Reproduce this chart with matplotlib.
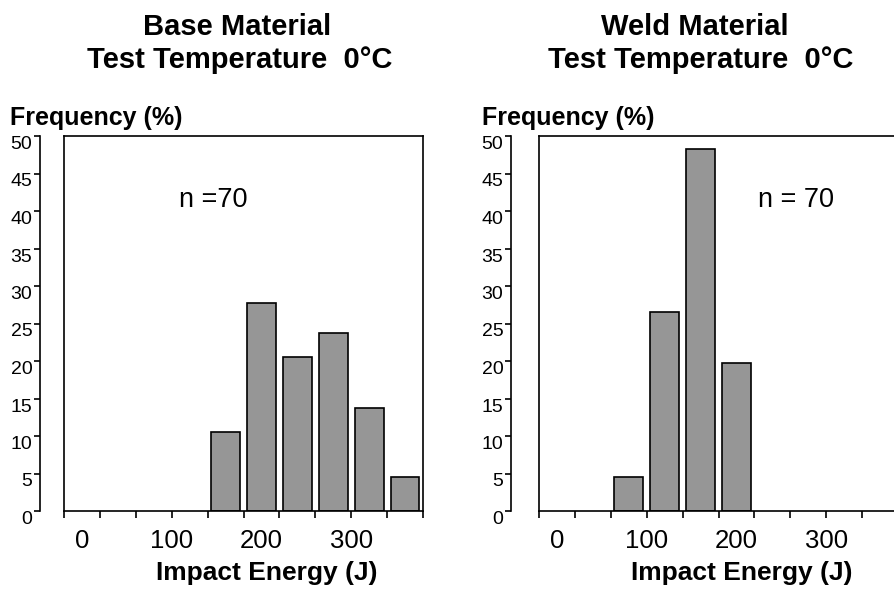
import numpy as np
import matplotlib
matplotlib.use('Agg')
import matplotlib.pyplot as plt

plt.rcParams['font.family'] = ['Liberation Sans', 'DejaVu Sans']

# data (bin centres in J, frequency in %)
base_centers = [160, 200, 240, 280, 320, 360]
base_freq = [10.5, 27.8, 20.6, 23.8, 13.7, 4.6]
weld_centers = [80, 120, 160, 200]
weld_freq = [4.6, 26.5, 48.3, 19.8]

titles = ['Base Material', 'Weld Material']
n_labels = ['n =70', 'n = 70']
x_labels = [0, 100, 200, 300]
y_ticks = list(range(0, 51, 5))

W, H = 894, 590
fig = plt.figure(figsize=(W / 100, H / 100), dpi=100)


def box(l, t, r, b):
    return [l / W, 1 - b / H, (r - l) / W, (b - t) / H]


def ftext(x, y, s, **kw):
    fig.text(x / W, 1 - y / H, s, **kw)


def panel(yax, bx, centers, freq, title, tx1, tx2, flx, nlab, nx):
    # detached y axis
    ay = fig.add_axes(box(yax, 136, yax + 1, 511))
    ay.set_ylim(0, 50)
    ay.set_yticks(y_ticks)
    ay.set_xticks([])
    for s in ['top', 'right', 'bottom']:
        ay.spines[s].set_visible(False)
    ay.spines['left'].set_linewidth(1.2)
    ay.tick_params(axis='y', direction='out', length=4, width=1.2, pad=1.5, labelsize=14)
    for lab in ay.get_yticklabels():
        lab.set_verticalalignment('top')
    ay.patch.set_alpha(0)

    # plot box
    ax = fig.add_axes(box(bx, 136, bx + 359, 511))
    ax.set_xlim(-20, 380)
    ax.set_ylim(0, 50)
    ax.bar(centers, freq, width=32, color='#969696', edgecolor='black', linewidth=1.2)
    ax.set_yticks([])
    ax.xaxis.remove_overlapping_locs = False
    ax.set_xticks(np.arange(-20, 381, 40))
    ax.set_xticks(x_labels, minor=True)
    ax.set_xticklabels([str(v) for v in x_labels], minor=True)
    ax.tick_params(axis='x', which='major', direction='out', length=5, width=1.2, labelbottom=False)
    ax.tick_params(axis='x', which='minor', length=0, pad=13, labelsize=18.5)
    for s in ax.spines.values():
        s.set_linewidth(1.2)

    ftext(tx1, 35, title, ha='center', va='baseline', fontsize=21, fontweight='bold')
    ftext(tx2, 68, 'Test Temperature  0\u00b0C', ha='center', va='baseline',
          fontsize=21, fontweight='bold')
    ftext(flx, 125, 'Frequency (%)', ha='left', va='baseline', fontsize=18, fontweight='bold')
    ftext(bx + 203, 580, 'Impact Energy (J)', ha='center', va='baseline',
          fontsize=19, fontweight='bold')
    ftext(nx, 207, nlab, ha='center', va='baseline', fontsize=19.5)


panel(40, 64, base_centers, base_freq, titles[0], 237, 240, 10, n_labels[0], 213)
panel(511, 539, weld_centers, weld_freq, titles[1], 695, 701, 482, n_labels[1], 796)

fig.savefig('out.png', dpi=100)
